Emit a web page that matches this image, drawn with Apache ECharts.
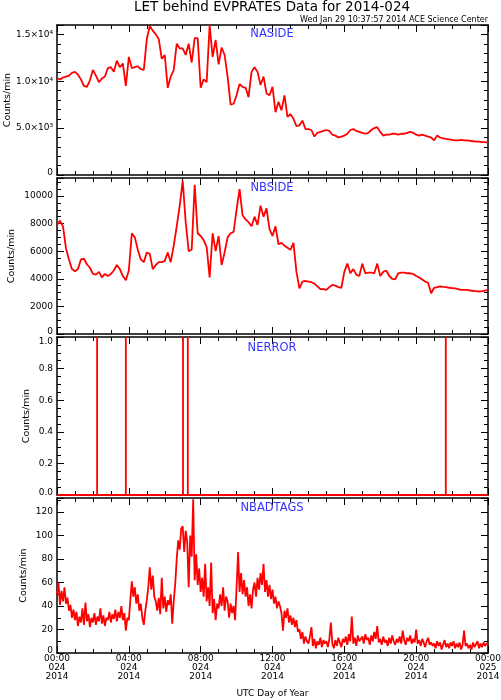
<!DOCTYPE html>
<html><head><meta charset="utf-8">
<script src="https://cdn.jsdelivr.net/npm/echarts@6/dist/echarts.min.js"></script>
<style>html,body{margin:0;padding:0;background:#fff}#c{width:501px;height:700px}</style>
</head><body><div id="c"></div>
<script>
// NASIDE, 10-minute samples from 00:00 to 24:00 (counts/min)
const naside = [
10300,10200,10400,10500,10600,10900,
11000,10700,10200,9500,9400,10100,
11200,10600,9900,10300,10500,11400,
11500,11000,12200,11500,11900,9500,
12600,11400,11500,11600,11300,11200,
14500,15900,15400,15000,14500,12400,
12800,9300,10500,11200,14000,13500,
13500,12800,14000,12000,14600,14600,
9300,10200,9900,16000,12600,14400,
11800,13600,12800,10500,7500,7600,
8500,9700,9400,9300,8300,11000,
11500,11000,9600,10500,8700,8500,
9400,6700,7800,6900,8500,6200,
6500,6000,5200,5300,5800,4900,
4900,4800,4100,4500,4600,4700,
4800,4700,4300,4200,4000,4100,
4200,4400,4800,4900,4700,4600,
4500,4400,4500,4800,5000,5100,
4600,4200,4300,4300,4400,4400,
4300,4400,4400,4500,4600,4500,
4300,4200,4300,4200,4100,4000,
3700,4200,4000,3900,3850,3800,
3750,3700,3700,3750,3700,3700,
3650,3600,3550,3550,3500,3500,
3450];
// NBSIDE, 10-minute samples
const nbside = [
7900,8200,7800,6200,5400,4700,
4550,4700,5400,5450,5050,4800,
4350,4300,4500,4100,4350,4200,
4350,4600,5000,4700,4200,3900,
4600,7300,7000,6100,5400,5200,
5900,5800,4700,5000,5200,5200,
5300,5900,5200,6400,7800,9300,
11100,8100,6000,6100,10800,7300,
7100,6800,6300,4100,7300,6000,
7100,5000,5900,7000,7300,7400,
9000,10500,8600,8300,8100,7800,
8500,7900,9300,8500,9100,7600,
7100,7800,6500,6600,6400,6250,
6100,6600,4500,3300,3800,3850,
3800,3750,3650,3450,3250,3250,
3200,3400,3550,3500,3400,3350,
4500,5100,4400,4700,4300,4200,
5100,4400,4450,4450,4400,5100,
4200,4500,4600,4200,4000,3950,
4400,4450,4450,4400,4400,4350,
4200,4100,3950,3800,3700,2950,
3350,3400,3450,3420,3400,3350,
3330,3300,3250,3200,3200,3200,
3150,3130,3100,3080,3100,3150,
3200];
// NERROR: minutes of day where one error count occurred (otherwise 0)
const nerrorMinutes = [134, 230, 421, 437, 1299];
// NBADTAGS, 5-minute samples
const nbadtags = [
50,60,41,53,44,56,42,47,36,41,30,37,
28,35,23,31,26,38,24,43,27,33,22,30,
26,34,24,31,27,38,25,32,23,30,28,35,
26,33,29,37,27,35,30,40,28,34,19,30,
28,45,61,48,56,42,50,36,42,30,24,36,
45,56,73,54,66,48,44,36,47,33,64,38,
48,35,45,41,50,25,44,59,80,96,88,106,
108,86,104,95,56,100,82,131,62,84,58,72,
52,64,48,76,44,56,40,77,34,46,28,42,
38,50,40,56,36,48,44,30,42,34,40,28,
56,86,52,68,50,62,48,56,40,50,38,54,
60,48,64,54,68,58,76,52,62,48,58,46,
54,42,48,38,44,40,34,19,36,30,38,26,
32,24,30,22,28,18,20,12,18,8,14,10,
8,14,22,6,12,4,10,7,13,5,11,8,
10,5,12,26,8,4,11,6,13,9,5,12,
9,14,7,16,10,31,8,13,6,15,10,12,
14,8,16,11,13,7,15,10,18,12,23,9,
12,7,14,9,11,6,13,8,15,10,7,12,
9,14,8,19,11,7,13,10,15,8,12,9,
20,8,11,6,12,9,5,10,13,7,9,6,
8,4,10,6,9,3,7,11,5,8,4,9,
6,10,4,8,5,9,3,7,19,6,8,4,
7,3,9,5,6,10,4,8,5,9,6,8,
8];
const panelNames = ['NASIDE', 'NBSIDE', 'NERROR', 'NBADTAGS'];
const yMax = [16000, 11300, 1, 132];
const yInterval = [5000, 2000, 0.2, 20];
const yMinorSplit = [5, 4, 4, 2];
const supers = {'3':'\u00B3','4':'\u2074'};

function sciFmt(v){
  if (v === 0) return '0';
  const e = Math.floor(Math.log10(v));
  const m = (v / Math.pow(10, e)).toFixed(1);
  return m + '\u00D710' + supers[String(e)];
}
const yFmt = [sciFmt, v => String(v), v => v.toFixed(1), v => String(v)];
const nameGaps = [44, 40, 25, 28];
const FONT = 'DejaVu Sans';

function wrapLabel(g){
  return v => {
    const t = yFmt[g](v);
    if (v === 0) return '{lo|' + t + '}';
    if (v === yMax[g]) return '{hi|' + t + '}';
    return t;
  };
}
const richLab = {
  lo:{fontFamily:FONT, fontSize:9, color:'#000', padding:[0,0,5,0]},
  hi:{fontFamily:FONT, fontSize:9, color:'#000', padding:[9,0,0,0]}
};

function toSeries(arr, stepMin){ return arr.map((v,i)=>[i*stepMin/60, v]); }
function errSeries(){
  const d = [[0,0]];
  nerrorMinutes.forEach(m => { d.push([m/60,0],[m/60,1],[m/60,0]); });
  d.push([24,0]);
  return d;
}

const grids = [
  {left:57, right:13, top:25, height:150},
  {left:57, right:13, top:178, height:156},
  {left:57, right:13, top:337, height:158},
  {left:57, right:13, top:498, height:155}
].map(g => Object.assign(g, {outerBoundsMode:'none', containLabel:false}));

const lineStyle = {color:'#000', width:1.5};
const xAxes = [], yAxes = [];
for (let g=0; g<4; g++){
  ['bottom','top'].forEach(pos => {
    const showLab = (g === 3 && pos === 'bottom');
    xAxes.push({
      type:'value', gridIndex:g, position:pos, min:0, max:24, interval:4,
      axisLine:{show:true, onZero:false, lineStyle},
      axisTick:{show:true, inside:true, length:7, lineStyle:{color:'#000', width:1}},
      minorTick:{show:true, splitNumber:4, length:4, lineStyle:{color:'#000', width:1}},
      splitLine:{show:false}, minorSplitLine:{show:false},
      axisLabel:{show:showLab, margin:1, fontFamily:FONT, fontSize:9, lineHeight:9.2, color:'#000',
        formatter: v => { const h = v % 24; const day = v >= 24 ? '025' : '024';
          return String(h).padStart(2,'0') + ':00\n' + day + '\n2014'; }},
      name: showLab ? 'UTC Day of Year' : '', nameLocation:'middle', nameGap:36, nameMoveOverlap:false,
      nameTextStyle:{fontFamily:FONT, fontSize:9, color:'#000'}
    });
  });
  ['left','right'].forEach(pos => {
    const showLab = pos === 'left';
    yAxes.push({
      type:'value', gridIndex:g, position:pos, min:0, max:yMax[g], interval:yInterval[g],
      axisLine:{show:true, onZero:false, lineStyle},
      axisTick:{show:true, inside:true, length:7, lineStyle:{color:'#000', width:1}},
      minorTick:{show:true, splitNumber:yMinorSplit[g], length:4, lineStyle:{color:'#000', width:1}},
      splitLine:{show:false}, minorSplitLine:{show:false},
      axisLabel:{show:showLab, margin:4, fontFamily:FONT, fontSize:9, color:'#000', hideOverlap:false,
        showMaxLabel: g === 2, showMinLabel:true, formatter:wrapLabel(g), rich:richLab},
      name: showLab ? 'Counts/min' : '', nameLocation:'middle', nameGap:nameGaps[g], nameMoveOverlap:false,
      nameTextStyle:{fontFamily:FONT, fontSize:9.5, color:'#000'}
    });
  });
}

const seriesData = [toSeries(naside,10), toSeries(nbside,10), errSeries(), toSeries(nbadtags,5)];
const series = seriesData.map((d,g) => ({
  type:'line', xAxisIndex:g*2, yAxisIndex:g*2, data:d, showSymbol:false, symbol:'none',
  lineStyle:{color:'#ff0000', width:1.8}, itemStyle:{color:'#ff0000'}, z:5,
  clip:true, animation:false
}));

const graphics = [
  {type:'text', x:272, y:7, style:{text:'LET behind EVPRATES Data for 2014-024', fill:'#000',
    font:'13.5px "DejaVu Sans"', align:'center', verticalAlign:'middle'}},
  {type:'text', x:488, y:20, style:{text:'Wed Jan 29 10:37:57 2014 ACE Science Center', fill:'#000',
    font:'8px "DejaVu Sans"', align:'right', verticalAlign:'middle'}}
];
const labelY = [34, 188, 348, 508];
panelNames.forEach((n,i) => graphics.push({type:'text', x:272, y:labelY[i], z:10,
  style:{text:n, fill:'#3333ff', font:'11.5px "DejaVu Sans"', align:'center', verticalAlign:'middle'}}));

const chart = echarts.init(document.getElementById('c'), null, {renderer:'canvas'});
chart.setOption({
  backgroundColor:'#fff', animation:false,
  grid:grids, xAxis:xAxes, yAxis:yAxes, series, graphic:graphics
});
</script></body></html>
